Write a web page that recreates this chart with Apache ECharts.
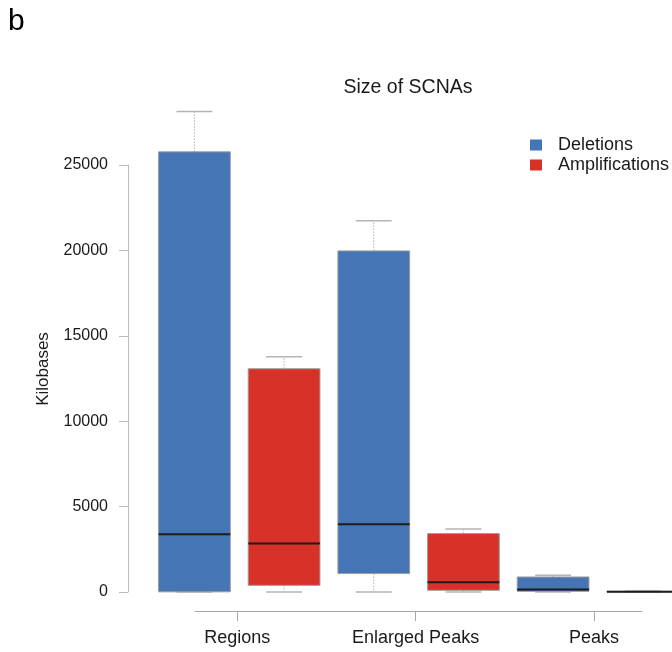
<!DOCTYPE html>
<html>
<head>
<meta charset="utf-8">
<script src="https://cdn.jsdelivr.net/npm/echarts@6/dist/echarts.min.js"></script>
<style>
  html, body { margin: 0; padding: 0; background: #ffffff; }
  #chart { width: 672px; height: 652px; }
</style>
</head>
<body>
<div id="chart"></div>
<script>
// Size of somatic copy-number alterations, in kilobases
const categories = ['Regions', 'Enlarged Peaks', 'Peaks'];
// five-number summaries per category: [min, Q1, median, Q3, max]
const deletions = [
  [0, 10, 3380, 25770, 28130],
  [0, 1080, 3970, 19970, 21740],
  [0, 40, 140, 880, 980]
];
const amplifications = [
  [0, 390, 2840, 13070, 13770],
  [0, 100, 570, 3420, 3690],
  [0, 5, 15, 40, 60]
];
const yTicks = [0, 5000, 10000, 15000, 20000, 25000];

const FONT = '"Liberation Sans", Arial, Helvetica, sans-serif';
const TEXT = '#1a1a1a';
const BLUE = '#4575b4';
const RED = '#d73128';

function toSeriesData(stats) {
  return stats.map((s, i) => [i].concat(s));
}

// Box-and-whisker drawn on the category/value scales; offsetFrac shifts the
// box inside its category band so the two groups sit side by side.
function boxRenderer(offsetFrac, fill) {
  return function (params, api) {
    const idx = api.value(0);
    const band = api.size([1, 0])[0];
    const cx = api.coord([idx, 0])[0] + offsetFrac * band;
    const half = band * 0.2;
    const capHalf = half / 2;
    const yMin = api.coord([idx, api.value(1)])[1];
    const yQ1 = api.coord([idx, api.value(2)])[1];
    const yMed = api.coord([idx, api.value(3)])[1];
    const yQ3 = api.coord([idx, api.value(4)])[1];
    const yMax = api.coord([idx, api.value(5)])[1];
    const whisk = { stroke: '#b0b0b0', lineWidth: 1, lineDash: [1.5, 1.5] };
    const cap = { stroke: '#b4b4b4', lineWidth: 1.5 };
    return {
      type: 'group',
      children: [
        { type: 'line', shape: { x1: cx, y1: yQ3, x2: cx, y2: yMax }, style: whisk },
        { type: 'line', shape: { x1: cx, y1: yQ1, x2: cx, y2: yMin }, style: whisk },
        { type: 'line', shape: { x1: cx - capHalf, y1: yMax, x2: cx + capHalf, y2: yMax }, style: cap },
        { type: 'line', shape: { x1: cx - capHalf, y1: yMin, x2: cx + capHalf, y2: yMin }, style: cap },
        {
          type: 'rect',
          shape: { x: cx - half, y: yQ3, width: half * 2, height: Math.max(yQ1 - yQ3, 0.5) },
          style: { fill: fill, stroke: '#9c9c9c', lineWidth: 1 }
        },
        {
          type: 'line',
          shape: { x1: cx - half, y1: yMed, x2: cx + half, y2: yMed },
          style: { stroke: '#1c1c1c', lineWidth: 2 }
        }
      ]
    };
  };
}

const chart = echarts.init(document.getElementById('chart'), null, { renderer: 'canvas' });

// plot area for the boxes: value 0 sits at the bottom edge
const plotGrid = { top: 165, height: 427, containLabel: false, outerBoundsMode: 'none' };
// category axis drawn a little below the plot area
const axisGrid = { top: 165, height: 446, containLabel: false, outerBoundsMode: 'none' };

const option = {
  animation: false,
  backgroundColor: '#ffffff',
  textStyle: { fontFamily: FONT },
  title: [
    {
      text: 'Size of SCNAs',
      left: 403,
      top: 73,
      textAlign: 'center',
      textStyle: { fontFamily: FONT, fontSize: 19.5, fontWeight: 'normal', color: TEXT }
    },
    {
      text: 'b',
      left: 3,
      top: 2,
      textStyle: { fontFamily: FONT, fontSize: 30, fontWeight: 'normal', color: '#000000' }
    }
  ],
  legend: {
    orient: 'vertical',
    left: 525,
    top: 131,
    icon: 'rect',
    itemWidth: 12,
    itemHeight: 11,
    itemGap: 2,
    selectedMode: false,
    data: ['Deletions', 'Amplifications'],
    textStyle: { fontFamily: FONT, fontSize: 18, color: TEXT, padding: [0, 0, 0, 11] }
  },
  grid: [
    Object.assign({ left: 149.6, width: 538 }, plotGrid),
    Object.assign({ left: 148.1, width: 535 }, axisGrid),
    Object.assign({ left: 195, width: 447 }, axisGrid)
  ],
  xAxis: [
    { gridIndex: 0, type: 'category', data: categories, show: false },
    {
      gridIndex: 1,
      type: 'category',
      data: categories,
      axisLine: { show: false },
      axisTick: { show: true, alignWithLabel: true, length: 10, lineStyle: { color: '#a8a8a8', width: 1 } },
      axisLabel: { fontFamily: FONT, fontSize: 18, color: TEXT, margin: 18 },
      splitLine: { show: false }
    },
    {
      gridIndex: 2,
      type: 'value',
      axisLine: { show: true, lineStyle: { color: '#a8a8a8', width: 1 } },
      axisTick: { show: false },
      axisLabel: { show: false },
      splitLine: { show: false }
    }
  ],
  yAxis: [
    {
      gridIndex: 0,
      type: 'value',
      min: yTicks[0],
      max: yTicks[yTicks.length - 1],
      interval: yTicks[1] - yTicks[0],
      offset: 21.6,
      axisLine: { show: true, lineStyle: { color: '#bcbcbc', width: 1 } },
      axisTick: { show: true, length: 9, lineStyle: { color: '#bcbcbc', width: 1 } },
      axisLabel: {
        fontFamily: FONT,
        fontSize: 16,
        color: TEXT,
        margin: 20,
        formatter: (v) => String(v)
      },
      splitLine: { show: false }
    },
    { gridIndex: 1, type: 'value', show: false },
    { gridIndex: 2, type: 'value', show: false }
  ],
  graphic: [
    {
      type: 'text',
      x: 43,
      y: 369,
      rotation: Math.PI / 2,
      style: {
        text: 'Kilobases',
        fontFamily: FONT,
        fontSize: 17,
        fill: TEXT,
        align: 'center',
        verticalAlign: 'middle'
      }
    }
  ],
  series: [
    {
      name: 'Deletions',
      type: 'custom',
      xAxisIndex: 0,
      yAxisIndex: 0,
      itemStyle: { color: BLUE },
      encode: { x: 0, y: [1, 2, 3, 4, 5] },
      data: toSeriesData(deletions),
      renderItem: boxRenderer(-0.25, BLUE),
      clip: false,
      z: 2
    },
    {
      name: 'Amplifications',
      type: 'custom',
      xAxisIndex: 0,
      yAxisIndex: 0,
      itemStyle: { color: RED },
      encode: { x: 0, y: [1, 2, 3, 4, 5] },
      data: toSeriesData(amplifications),
      renderItem: boxRenderer(0.25, RED),
      clip: false,
      z: 2
    }
  ]
};

chart.setOption(option);
</script>
</body>
</html>
